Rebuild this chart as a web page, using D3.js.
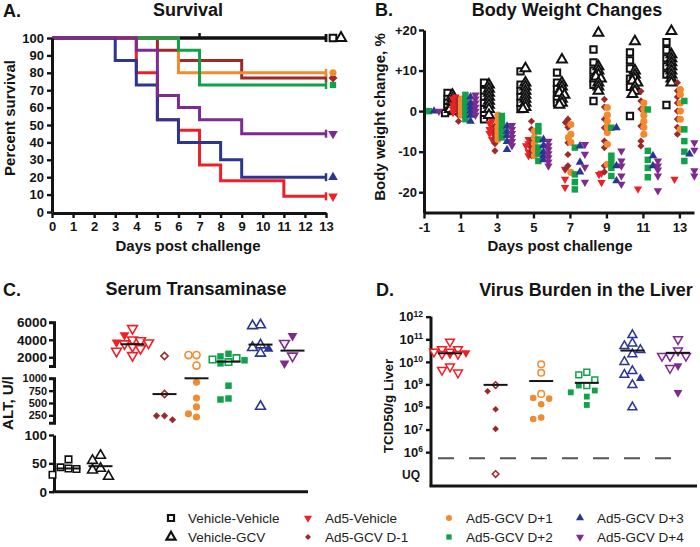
<!DOCTYPE html>
<html><head><meta charset="utf-8">
<script src="https://cdn.jsdelivr.net/npm/d3@7"></script>
<style>body{margin:0;background:#fff;}svg{display:block;}</style>
</head><body><svg id="c" width="700" height="547"></svg>
<script>
// ================= DATA =================
const groups = ["Vehicle-Vehicle","Vehicle-GCV","Ad5-Vehicle","Ad5-GCV D-1","Ad5-GCV D+1","Ad5-GCV D+2","Ad5-GCV D+3","Ad5-GCV D+4"];
const groupColors = ["#111111","#111111","#ee2027","#9c2a2a","#f28a30","#10a24a","#2c3592","#7e2b8f"];
const groupShapes = ["square","triangle","triangleDown","diamond","circle","square","triangle","triangleDown"];

// A. Survival (step change points: [day, percent])
const survVV = [[0,100],[13,100]];
const survVG = [[0,100],[13,100]];
const survRed = [[0,100],[4,80],[5,53],[6,47],[7,27],[8,18],[11,9],[13,9]];
const survDm1 = [[0,100],[5,93],[6,87],[9,77],[13,77]];
const survDp1 = [[0,100],[6,80],[13,80]];
const survDp2 = [[0,100],[6,93],[7,73],[13,73]];
const survDp3 = [[0,100],[3,87],[4,73],[5,53],[6,40],[8,30],[9,20],[13,20]];
const survDp4 = [[0,100],[4,93],[5,67],[6,60],[7,53],[9,45],[13,45]];
const survCensorVV = [7];
const survTicksX = [0,1,2,3,4,5,6,7,8,9,10,11,12,13];
const survTicksY = [0,10,20,30,40,50,60,70,80,90,100];

// B. Body weight change (%), per day
const bwDays = [-1,1,3,5,7,9,11,13];
const bwTickLabelsX = ["-1","1","3","5","7","9","11","13"];
const bwVV = [[],[4.5,3,2,1,0,-0.5],[7,5,3.5,2,0.5,-1,-2],[9.8,6.5,5,3.5,2,0.5],[9.5,7,5.5,4,3,2],[15.2,12,10,8,6.5,2.5],[14.5,12.5,10.5,8,6,-1.2],[17,15,13,11,9,1.5]];
const bwVG = [[],[4,3,2,1,0.5,0],[6.5,5.5,4.5,3.5,2.5,1.5,0.5,-1],[10.5,7,6,5,4,3,2,1,0.5],[12.7,7,6,5,4.5,4,3,2,1.5],[19.3,11,10,9,8.5,8,7,6,5],[17.2,10,9,8,7.5,7,6,5,4.2],[19.7,14,13,12,11,10,9,8,7]];
const bwRed = [[],[3.5,3,2,1.5,1,0.5,0,-0.3],[-2.5,-3,-4,-4.5,-5,-5.5,-6,-7],[-7,-8,-8.5,-9,-10,-11],[-14.3,-16.8,-18.8],[-15.3,-15.6,-17.6],[-19.2],[-16.8]];
const bwDm1 = [[],[3,2,1,0,-1,-2.5],[-3.7,-5,-6,-7,-8,-9.8],[-2.5,-4.5,-7,-8,-9,-10,-11],[-2,-2.8,-4,-7.8,-10.7,-13.5,-14.3],[2.9,1,-2,-4.1,-7.4,-9,-13.5,-15],[4.9,2.5,0.5,-3.7,-7.4,-8.6],[7,5,3.5,2,0,-2,-4,-5.7]];
const bwDp1 = [[],[3,2,1,0,-1],[-1,-2.5,-4,-5,-6,-7],[-5,-6.5,-8,-9.5,-11],[-3.3,-5.7,-6.5,-7.7,-15.1],[0.9,-1,-2.5,-4,-5.3,-8.2,-13.1],[2,0.5,-1,-2.5,-4,-5.7],[5.3,4.1,2,0,-2,-4.5]];
const bwDp2 = [[0],[4,3,2,1,0,-1,-2],[-1.2,-2.5,-4,-5,-6.5],[-3.7,-5,-7,-9,-10.5,-12.3],[-9,-15.6,-17.5,-19.3],[-4.1,-11,-12.5,-14,-16],[0.4,-9.8,-12,-14,-16.3],[2.5,-4.5,-7.4,-10,-12.3]];
const bwDp3 = [[0],[3.5,2,1,0,-1,-2.5],[-3.7,-5,-6,-7.5,-9.5],[-7,-8.5,-10,-11,-12],[-8.6,-12.6,-15],[-4.1,-13.5,-17.2],[-11,-13.5],[-10.6]];
const bwDp4 = [[0],[4,3,2,1,0,-1],[-3.5,-4.5,-5.5,-6.5,-7.5,-8.5],[-7.4,-8.5,-9.5,-10.5,-11.5,-12.5,-13.5],[-8.2,-10.6,-13.8,-17.5],[-9.8,-12.3,-13.5,-16,-18],[-12.3,-13.5,-14.5,-16,-19.6],[-7.8,-9.6,-14.7,-16]];
const bwTicksY = [-20,-10,0,10,20];
const bwTickLabelsY = ["-20","-10","0","+10","+20"];

// C. Serum transaminase ALT (U/l): open and filled markers per group, and group means
const altOpen = [[57,43,41,40,30],[64,55,41,38,27],[5300,4000,3900,3650,3550,3250,3000,2700,2200],[2150,680],[2250,2250,1050],[1900,1750,1450],[5700,5600,3400,3100,2450,430],[3600,2150]];
const altFilled = [[],[],[4550,3700],[240,240,160],[920,600,420,280,215],[2400,2100,1650,1300,850,590,570],[2950],[4450,1300]];
const altMean = [41,45,3490,680,1000,1500,3450,2760];
const altTicksTop = [2000,4000,6000];
const altTicksMid = [250,500,750,1000];
const altTicksLow = [0,50,100];

// D. Virus burden (log10 TCID50/g liver); null = below quantification (UQ)
const virusGroups = ["Ad5-Vehicle","Ad5-GCV D-1","Ad5-GCV D+1","Ad5-GCV D+2","Ad5-GCV D+3","Ad5-GCV D+4"];
const virusOpen = [[10.89,10.56,10.56,10.45,10.45,10.35,10.35,9.79,9.64,9.52],[8.97,null],[9.89,9.52,8.58],[9.54,9.42,9.2,8.95],[11.19,10.82,10.7,10.53,10.34,10.0,9.6,9.43,8.98,7.99],[11.0,10.5,10.26,10.26,10.26,9.72]];
const virusFilled = [[10.4,10.33],[8.7,7.9,7.03],[8.4,8.37,8.12,7.53,7.47],[8.95,8.73,8.65,8.46,8.09],[9.27],[9.82,8.64]];
const virusMean = [10.38,8.98,9.15,9.07,10.5,10.4];
const virusLOQ = 5.73;
const virusTicks = [6,7,8,9,10,11,12];

// ================= DRAWING =================
const FONT = "'Liberation Sans', Arial, Helvetica, sans-serif";
const svg = d3.select("#c").attr("font-family", FONT);
const INK = "#141414";

const symType = {square:d3.symbolSquare, triangle:d3.symbolTriangle, triangleDown:d3.symbolTriangle, diamond:d3.symbolSquare, circle:d3.symbolCircle};
const symRot = {triangleDown:180, diamond:45};
function sym(g, shape, x, y, size, color, open, sw){
  return g.append("path").attr("d", d3.symbol().type(symType[shape]).size(size)())
    .attr("transform", `translate(${x},${y}) rotate(${symRot[shape]||0})`)
    .attr("fill", open ? "#fff" : color)
    .attr("stroke", open ? color : "none")
    .attr("stroke-width", open ? sw : 0);
}
function styleAxis(g, sw, fs){
  g.attr("font-family", FONT).attr("font-size", fs||13).attr("font-weight","bold");
  g.select(".domain").attr("stroke", INK).attr("stroke-width", sw);
  g.selectAll(".tick line").attr("stroke", INK).attr("stroke-width", sw*0.8);
  g.selectAll(".tick text").attr("fill", INK);
}
function label(txt, x, y, size, anchor, rot, weight){
  const t = svg.append("text").text(txt).attr("font-size", size).attr("font-weight", weight||"bold")
    .attr("fill", INK).attr("text-anchor", anchor||"middle");
  if (rot) t.attr("transform", `translate(${x},${y}) rotate(${rot})`);
  else t.attr("x", x).attr("y", y);
  return t;
}
// beeswarm-like dodge: returns horizontal offsets
function dodge(ys, step, minDist, maxK){
  const idx = ys.map((y,i)=>i).sort((a,b)=>ys[a]-ys[b]);
  const placed = [], out = new Array(ys.length).fill(0);
  idx.forEach(i=>{
    const c=[0]; for(let k=1;k<=maxK;k++){c.push(-k*step,k*step);}
    let best=0, bestD=-1;
    for(const dx of c){
      let md = Infinity;
      placed.forEach(p=>{ md = Math.min(md, Math.hypot(p[0]-dx, p[1]-ys[i])); });
      if (md >= minDist){ best=dx; bestD=Infinity; break; }
      if (md > bestD){ bestD=md; best=dx; }
    }
    out[i]=best; placed.push([best, ys[i]]);
  });
  return out;
}

// ---------- Panel A ----------
const xA = d3.scaleLinear().domain([0,13]).range([52,326]);
const yA = d3.scaleLinear().domain([0,100]).range([212,38]);
label("A.", 3, 17, 18, "start");
label("Survival", 188, 16, 18);
label("Percent survival", 15, 118, 15, "middle", -90);
label("Days post challenge", 188, 251, 15);
const survAll = [survVV, survVG, survRed, survDm1, survDp1, survDp2, survDp3, survDp4];
const survOrder = [0,1,3,4,5,2,6,7];
const lineA = d3.line().x(d=>xA(d[0])).y(d=>yA(d[1])).curve(d3.curveStepAfter);
const gA = svg.append("g");
survOrder.forEach(i=>{
  gA.append("path").attr("d", lineA(survAll[i])).attr("fill","none")
    .attr("stroke", groupColors[i]).attr("stroke-width", 3);
  const last = survAll[i][survAll[i].length-1];
  gA.append("line").attr("x1", xA(last[0])).attr("x2", xA(last[0]))
    .attr("y1", yA(last[1])-4).attr("y2", yA(last[1])+4).attr("stroke", groupColors[i]).attr("stroke-width", 2.5);
});
survCensorVV.forEach(d=>{
  gA.append("line").attr("x1", xA(d)).attr("x2", xA(d)).attr("y1", yA(100)-5).attr("y2", yA(100)+1)
    .attr("stroke", INK).attr("stroke-width", 2.5);
});
survAll.forEach((s,i)=>{
  const last = s[s.length-1];
  const open = i<2;
  const x = xA(13) + (i===1 ? 15 : 7);
  sym(gA, groupShapes[i], x, yA(last[1]), open?45:40, groupColors[i], open, 2);
});
const axAx = gA.append("g").attr("transform", `translate(0,${yA(0)+1})`)
  .call(d3.axisBottom(xA).tickValues(survTicksX).tickSize(5).tickPadding(4).tickSizeOuter(0));
styleAxis(axAx, 3, 13);
const axAy = gA.append("g").attr("transform", `translate(${xA(0)},0)`)
  .call(d3.axisLeft(yA).tickValues(survTicksY).tickSize(5).tickPadding(3).tickSizeOuter(0));
styleAxis(axAy, 3, 13);

// ---------- Panel B ----------
const xB = d3.scaleLinear().domain([-1,13.8]).range([424,694]);
const yB = d3.scaleLinear().domain([-25,20]).range([212.5,30]);
label("B.", 375, 16, 18, "start");
label("Body Weight Changes", 567, 16, 18);
label("Body weight change, %", 385, 117, 15, "middle", -90);
label("Days post challenge", 560, 251, 15);
const gB = svg.append("g");
const bwAll = [bwVV, bwVG, bwRed, bwDm1, bwDp1, bwDp2, bwDp3, bwDp4];
const bwOffset = [-0.71,-0.44,-0.27,-0.11,0.05,0.27,0.55,0.82];
const bwSize = [40,42,30,26,40,42,32,30];
bwAll.forEach((series,gi)=>{
  series.forEach((vals,di)=>{
    if (!vals.length) return;
    const ys = vals.map(v=>yB(v));
    const dx = dodge(ys, 2.5, 3.5, 1);
    const cx = xB(bwDays[di] + bwOffset[gi]);
    vals.forEach((v,k)=>{
      sym(gB, groupShapes[gi], cx+dx[k], ys[k], bwSize[gi], groupColors[gi], gi<2, 2);
    });
  });
});
const axBx = gB.append("g").attr("transform", `translate(0,${yB(-25)})`)
  .call(d3.axisBottom(xB).tickValues(bwDays).tickFormat((d,i)=>bwTickLabelsX[i]).tickSize(6).tickPadding(4).tickSizeOuter(0));
styleAxis(axBx, 3, 13);
const axBy = gB.append("g").attr("transform", `translate(${xB(-1)},0)`)
  .call(d3.axisLeft(yB).tickValues(bwTicksY).tickFormat((d,i)=>bwTickLabelsY[i]).tickSize(5).tickPadding(2).tickSizeOuter(0));
styleAxis(axBy, 3, 13);

// ---------- Panel C ----------
label("C.", 3, 296, 18, "start");
label("Serum Transaminase", 196, 295, 18);
label("ALT, U/l", 13, 403, 15, "middle", -90);
const xC = d3.scalePoint().domain(groups).range([68.5,292.5]);
const cSegs = [
  {scale:d3.scaleLinear().domain([1000,6000]).range([366,322.3]), ticks:altTicksTop, brk:true, fs:13.5},
  {scale:d3.scaleLinear().domain([100,1000]).range([422.7,378.3]), ticks:altTicksMid, brk:true, fs:11},
  {scale:d3.scaleLinear().domain([0,100]).range([491.7,435]), ticks:altTicksLow, brk:false, fs:13.5}
];
function yC(v){ return v>1000 ? cSegs[0].scale(v) : (v>=100 ? cSegs[1].scale(v) : cSegs[2].scale(v)); }
const gC = svg.append("g");
const axCx = 54;
cSegs.forEach(s=>{
  const ax = gC.append("g").attr("transform", `translate(${axCx},0)`)
    .call(d3.axisLeft(s.scale).tickValues(s.ticks).tickFormat(d3.format("d")).tickSize(5).tickPadding(2).tickSizeOuter(s.brk?5:0));
  styleAxis(ax, 3, s.fs);
});
gC.append("line").attr("x1", axCx-1.5).attr("x2", 308).attr("y1", 491.7).attr("y2", 491.7).attr("stroke", INK).attr("stroke-width", 3);
groups.forEach((g,gi)=>{
  const pts = altOpen[gi].map(v=>({v, open:true})).concat(altFilled[gi].map(v=>({v, open:false})));
  const ys = pts.map(p=>yC(p.v));
  const dx = dodge(ys, 8, 8, 2);
  const cx = xC(g);
  pts.forEach((p,k)=>{
    const shape = groupShapes[gi];
    const size = shape==="circle" ? 40 : (shape==="diamond" ? 26 : 42);
    sym(gC, shape, cx+dx[k], ys[k], size, groupColors[gi], p.open, 1.6);
  });
  gC.append("line").attr("x1", cx-12).attr("x2", cx+12).attr("y1", yC(altMean[gi])).attr("y2", yC(altMean[gi]))
    .attr("stroke", INK).attr("stroke-width", 2);
});

// ---------- Panel D ----------
label("D.", 376, 296, 18, "start");
label("Virus Burden in the Liver", 586, 296, 18);
label("TCID50/g Liver", 393, 406, 13.5, "middle", -90);
const xD = d3.scalePoint().domain(virusGroups).range([450,678]);
const yD = d3.scaleLinear().domain([4.5,12]).range([486,316.7]);
const uqY = yD(5.03);
const gD = svg.append("g");
const axDy = gD.append("g").attr("transform", `translate(431,0)`)
  .call(d3.axisLeft(yD).tickValues(virusTicks).tickSize(5).tickPadding(3).tickSizeOuter(0));
styleAxis(axDy, 3, 13);
axDy.selectAll(".tick text").each(function(d){
  const t = d3.select(this); t.text(null);
  t.append("tspan").text("10");
  t.append("tspan").text(d).attr("font-size", 8.5).attr("dy", "-0.55em");
});
axDy.select(".domain").attr("d", `M0,${yD(12)}V486`);
gD.append("text").text("UQ").attr("x", 420).attr("y", uqY+4.5).attr("text-anchor","end")
  .attr("font-size", 12).attr("font-weight","bold").attr("fill", INK);
gD.append("line").attr("x1", 429.5).attr("x2", 697).attr("y1", 486).attr("y2", 486).attr("stroke", INK).attr("stroke-width", 3);
gD.append("line").attr("x1", 438).attr("x2", 680).attr("y1", yD(virusLOQ)).attr("y2", yD(virusLOQ))
  .attr("stroke", "#555").attr("stroke-width", 2).attr("stroke-dasharray", "16,15");
virusGroups.forEach((g,gi)=>{
  const ci = gi+2;
  const pts = virusOpen[gi].map(v=>({v, open:true})).concat(virusFilled[gi].map(v=>({v, open:false})));
  const ys = pts.map(p=> p.v===null ? uqY : yD(p.v));
  const dx = dodge(ys, 8, 8, 2);
  const cx = xD(g);
  pts.forEach((p,k)=>{
    const shape = groupShapes[ci];
    const size = shape==="circle" ? 34 : (shape==="diamond" ? 22 : 34);
    sym(gD, shape, cx+dx[k], ys[k], size, groupColors[ci], p.open, 1.5);
  });
  gD.append("line").attr("x1", cx-12).attr("x2", cx+12).attr("y1", yD(virusMean[gi])).attr("y2", yD(virusMean[gi]))
    .attr("stroke", INK).attr("stroke-width", 2);
});

// ---------- Legend ----------
const legX = [171,308,449,580], legY = [518,537];
const gL = svg.append("g");
groups.forEach((g,i)=>{
  const col = Math.floor(i/2), row = i%2;
  const x = legX[col], y = legY[row];
  const open = i<2;
  sym(gL, groupShapes[i], x, y, open?36:(groupShapes[i]==="diamond"?18:28), groupColors[i], open, 2.2);
  gL.append("text").text(g).attr("x", x+17).attr("y", y+5).attr("font-size", 13.5).attr("fill", "#222");
});
</script></body></html>
